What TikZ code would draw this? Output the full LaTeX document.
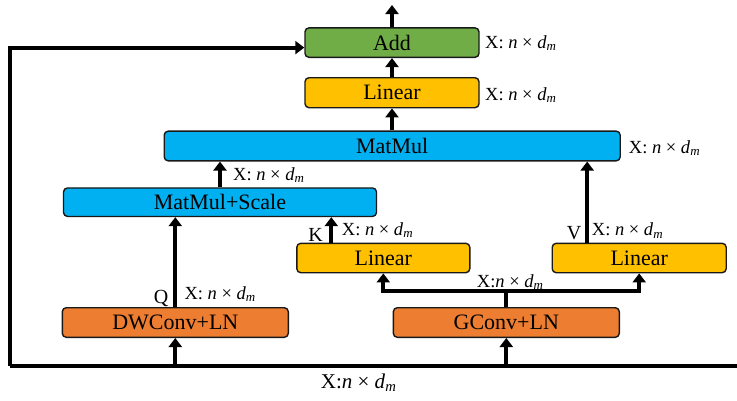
\documentclass[tikz,border=0pt]{standalone}
\usepackage{fontspec}
\setmainfont{Liberation Serif}
\usetikzlibrary{arrows.meta}
\definecolor{cgreen}{HTML}{70AD47}
\definecolor{cyellow}{HTML}{FFC000}
\definecolor{cblue}{HTML}{00B0F0}
\definecolor{corange}{HTML}{ED7D31}
\newcommand{\dimlab}{X:\ \textit{n}\ ×\ \textit{d}\textsubscript{\textit{m}}}
\newcommand{\dimlabb}{X:\textit{n}\ ×\ \textit{d}\textsubscript{\textit{m}}}
\tikzset{
  blk/.style={draw=black!90, line width=1.4pt, rounded corners=4pt, inner sep=0pt,
    font=\fontsize{22}{25}\selectfont},
  conn/.style={line width=3.8pt},
  arr/.style={conn, -{Triangle[width=13pt,length=9pt]}},
  lab/.style={anchor=base west, inner sep=0pt, font=\fontsize{18.5}{21}\selectfont},
  qkv/.style={anchor=base, inner sep=0pt, font=\fontsize{20}{24}\selectfont}
}
\begin{document}
\begin{tikzpicture}[x=1pt,y=-1pt]
\useasboundingbox (0,0) rectangle (737,400);
% blocks
\node[blk, fill=cgreen, minimum width=174pt, minimum height=29.5pt] (add) at (392,42.6) {Add};
\node[blk, fill=cyellow, minimum width=174pt, minimum height=30pt] (lin3) at (392,92.7) {Linear};
\node[blk, fill=cblue, minimum width=456pt, minimum height=29.7pt] (mm) at (392.2,146) {MatMul};
\node[blk, fill=cblue, minimum width=313pt, minimum height=28.5pt] (mms) at (220,202.2) {MatMul+Scale};
\node[blk, fill=cyellow, minimum width=173pt, minimum height=29.4pt] (link) at (383.3,258) {Linear};
\node[blk, fill=cyellow, minimum width=174pt, minimum height=29.4pt] (linv) at (639.2,258) {Linear};
\node[blk, fill=corange, minimum width=226pt, minimum height=29.6pt] (dw) at (175.3,322.5) {DWConv+LN};
\node[blk, fill=corange, minimum width=226pt, minimum height=29.6pt] (gc) at (506.3,322.5) {GConv+LN};
% coordinates
\coordinate (bl) at (10,366);
\coordinate (br) at (737,366);
\coordinate (top) at (392,5);
% main bottom line and skip connection
\draw[conn] (br) -- (bl);
\draw[arr, line join=miter] (bl) |- ([yshift=-5pt]add.west);
% inputs
\draw[arr] (dw.south |- bl) -- (dw.south);
\draw[arr] (gc.south |- bl) -- (gc.south);
% Q path
\draw[arr] (dw.north) -- (dw.north |- mms.south);
% split from GConv
\draw[conn] (gc.north) -- ++(0,-16) coordinate (sp);
\draw[arr, line join=miter] (sp) -| (link.south);
\draw[arr, line join=miter] (sp) -| (linv.south);
% K and V
\draw[arr] ([xshift=-52pt]link.north) -- ([xshift=-52pt]link.north |- mms.south);
\draw[arr] ([xshift=-52pt]linv.north) -- ([xshift=-52pt]linv.north |- mm.south);
% upward chain
\draw[arr] (mms.north) -- (mms.north |- mm.south);
\draw[arr] (mm.north -| lin3.south) -- (lin3.south);
\draw[arr] (lin3.north) -- (add.south);
\draw[arr] (add.north) -- (top);
% labels
\node[lab] (l1) at (485,48.3) {\dimlab};
\node[lab] (l2) at (485,100) {\dimlab};
\node[lab] (l3) at (628.7,153.3) {\dimlab};
\node[lab] (l4) at (233,180) {\dimlab};
\node[lab] (l5) at (184.3,299.3) {\dimlab};
\node[lab] (l6) at (341.7,235) {\dimlab};
\node[lab] (l7) at (591.7,235.7) {\dimlab};
\node[lab] (l8) at (476.7,287.3) {\dimlabb};
\node[lab, font=\fontsize{21}{24}\selectfont] (l9) at (320.7,388.3) {\dimlabb};
\node[qkv] (q) at (161,303) {Q};
\node[qkv] (k) at (315.5,241.7) {K};
\node[qkv] (v) at (574.2,239) {V};
\end{tikzpicture}
\end{document}
